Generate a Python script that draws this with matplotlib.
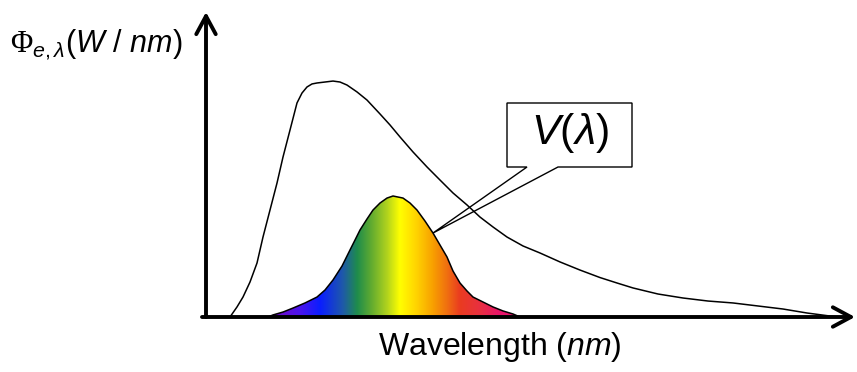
import numpy as np
import matplotlib.pyplot as plt
from matplotlib.colors import LinearSegmentedColormap
from matplotlib.patches import Polygon

plt.rcParams['font.family'] = ['Liberation Sans', 'DejaVu Sans']
plt.rcParams['mathtext.fontset'] = 'custom'
plt.rcParams['mathtext.rm'] = 'Liberation Sans'
plt.rcParams['mathtext.it'] = 'Liberation Sans:italic'
plt.rcParams['mathtext.sf'] = 'Liberation Serif'

# source spectrum (arbitrary units)
src_wl = [392, 399, 405, 412, 419, 425, 432, 439, 445, 452, 459, 464, 469, 474, 479,
          487, 495, 502, 509, 519, 529, 542, 552, 562, 575, 589, 602, 615, 629, 642,
          655, 669, 685, 702, 722, 742, 762, 779, 795, 820, 845, 870, 895, 920, 945,
          969, 992, 1002]
src_flux = [0, .083, .165, .289, .446, .661, .884, 1.107, 1.322, 1.545, 1.769, 1.851,
            1.901, 1.926, 1.934, 1.942, 1.950, 1.942, 1.917, 1.860, 1.793, 1.678, 1.587,
            1.488, 1.364, 1.240, 1.132, 1.025, .926, .826, .744, .661, .587, .529, .455,
            .388, .326, .281, .240, .190, .157, .132, .116, .091, .066, .033, .008, 0]

# eye sensitivity curve V(lambda)
v_wl = [430, 435, 445, 455, 467, 479, 487, 495, 504, 512, 517, 522, 529, 535, 542,
        549, 555, 565, 572, 579, 587, 595, 602, 609, 615, 622, 629, 635, 645, 655,
        665, 675, 682]
v_val = [0, .017, .041, .074, .116, .165, .223, .306, .421, .554, .636, .719, .810,
         .884, .942, .983, 1.0, .983, .942, .884, .793, .694, .595, .496, .380, .281,
         .215, .165, .124, .083, .050, .025, 0]

# spectrum colours
col_wl = [430, 442, 462, 482, 505, 519, 532, 549, 562, 579, 595, 609, 622, 642, 662, 682]
col_hex = ['#7a0cc8', '#6a0dd0', '#4a14ee', '#0a1eff', '#1f5aa8', '#1e8c4c', '#5aa832',
           '#b0d21e', '#ffff00', '#ffd200', '#f8a000', '#f07010', '#ea3c20', '#e83040',
           '#e8146a', '#e8106e']

fig = plt.figure(figsize=(8.57, 3.72), dpi=100)
ax = fig.add_axes([0, 0, 1, 1])
ax.set_xlim(162, 1019)
ax.set_ylim(-55 / 121, 317 / 121)
ax.axis('off')

# axes with open arrow heads
px = 1 / 121
arrow = dict(arrowstyle='->,head_length=0.65,head_width=0.35', lw=2.8,
             color='black', shrinkA=0, shrinkB=0, mutation_scale=20)
ax.annotate('', xy=(206 + 162, 305 * px), xytext=(206 + 162, 0),
            arrowprops=arrow, zorder=5)
ax.annotate('', xy=(855 + 162, 0), xytext=(202 + 162, 0),
            arrowprops=arrow, zorder=5)

# source curve
ax.plot(src_wl, src_flux, color='black', lw=1.1, zorder=4)

# V(lambda) filled with spectrum gradient
pos = [(w - col_wl[0]) / (col_wl[-1] - col_wl[0]) for w in col_wl]
cmap = LinearSegmentedColormap.from_list('spec', list(zip(pos, col_hex)))
poly = Polygon(list(zip(v_wl, v_val)), closed=True, facecolor='none',
               edgecolor='black', lw=1.1, zorder=3)
ax.add_patch(poly)
grad = np.linspace(0, 1, 512).reshape(1, -1)
im = ax.imshow(grad, cmap=cmap, aspect='auto',
               extent=[col_wl[0], col_wl[-1], 0, max(v_val)], zorder=2)
im.set_clip_path(poly)

# callout box
tip_x = 595
tip_y = np.interp(tip_x, v_wl, v_val)
bx0, bx1 = 507 + 162, 632 + 162
by0, by1 = (317 - 167) * px, (317 - 103) * px
box = Polygon([(bx0, by1), (bx1, by1), (bx1, by0), (558 + 162, by0),
               (tip_x, tip_y), (527 + 162, by0), (bx0, by0)],
              closed=True, facecolor='white', edgecolor='black', lw=1.0, zorder=1)
ax.add_patch(box)
ax.text((bx0 + bx1) / 2, (by0 + by1) / 2 + 2 * px, r'$V(\lambda)$', fontsize=31,
        ha='center', va='center', zorder=6)

# labels
ax.text(10 + 162, (317 - 52) * px, r'$\mathsf{\Phi}_{e,\lambda}\mathrm{(}W\ /\ nm\mathrm{)}$',
        fontsize=22, ha='left', va='baseline')
ax.text(378 + 162, (317 - 355) * px, 'Wavelength ($nm$)', fontsize=23,
        ha='left', va='baseline')

plt.savefig('out.png', dpi=100)
